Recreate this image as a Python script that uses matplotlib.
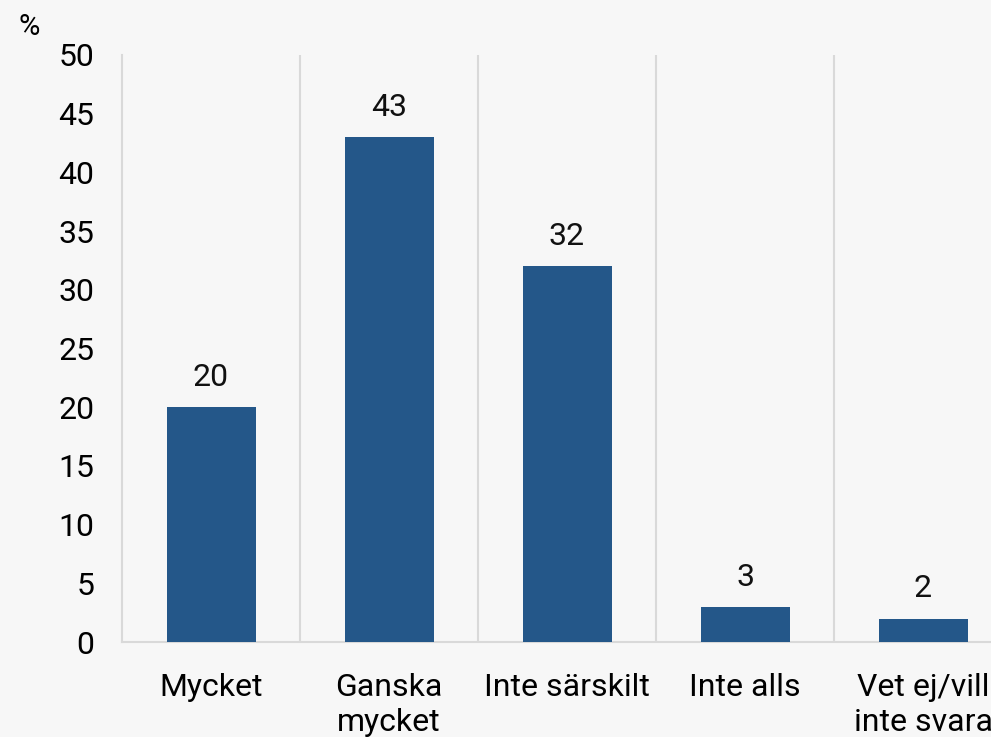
import matplotlib
matplotlib.use("Agg")
import matplotlib.pyplot as plt

categories = ["Mycket", "Ganska\nmycket", "Inte särskilt", "Inte alls", "Vet ej/vill\ninte svara"]
values = [20, 43, 32, 3, 2]
yticks = [0, 5, 10, 15, 20, 25, 30, 35, 40, 45, 50]

bg = "#f7f7f7"
bar_color = "#245789"
grid_color = "#d9d9d9"

plt.rcParams['font.family'] = ['Roboto', 'DejaVu Sans']

fig = plt.figure(figsize=(9.91, 7.37), dpi=100, facecolor=bg)
ax = fig.add_axes([122/991, 1-642/737, 890/991, (642-55)/737])
ax.set_facecolor(bg)

x = list(range(len(categories)))
bars = ax.bar(x, values, width=0.5, color=bar_color, zorder=3)
for xi, v in zip(x, values):
    ax.annotate(str(v), (xi, v), xytext=(0, 11), textcoords="offset points",
                ha="center", va="bottom", fontsize=23, color="#111111")

ax.set_xlim(-0.5, len(categories) - 0.5)
ax.set_ylim(0, 50)
ax.set_yticks(yticks)
ax.set_yticklabels([str(t) for t in yticks], fontsize=23)
ax.set_xticks(x)
ax.set_xticklabels(categories, fontsize=23, linespacing=1.3)
ax.tick_params(axis="y", length=0, pad=20)
ax.tick_params(axis="x", length=0, pad=22)

for b in [i + 0.5 for i in range(len(categories))]:
    ax.axvline(b, color=grid_color, lw=1.5, zorder=1)

for s in ["top", "right"]:
    ax.spines[s].set_visible(False)
ax.spines["left"].set_color(grid_color)
ax.spines["left"].set_linewidth(1.5)
ax.spines["bottom"].set_color(grid_color)
ax.spines["bottom"].set_linewidth(1.5)

fig.text(19/991, 1-27/737, "%", fontsize=21, ha="left", va="center")

fig.savefig("out.png", dpi=100, facecolor=bg)
